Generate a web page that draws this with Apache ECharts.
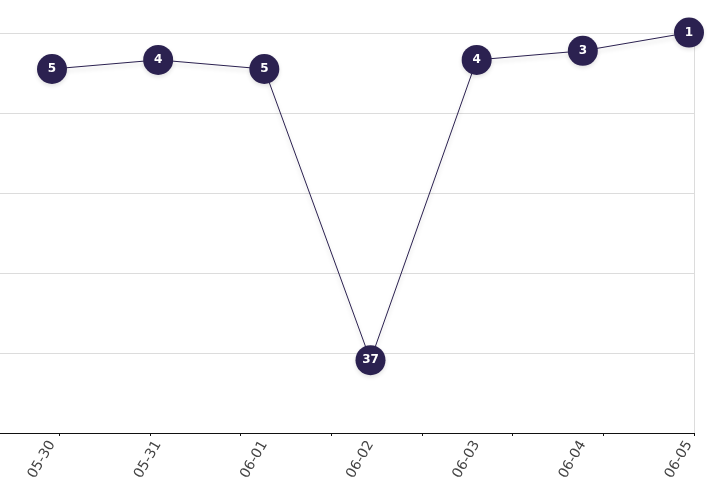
<!DOCTYPE html>
<html>
<head>
<meta charset="utf-8">
<script src="https://cdn.jsdelivr.net/npm/echarts@6/dist/echarts.min.js"></script>
<style>
html,body{margin:0;padding:0;background:#fff;}
#c{width:712px;height:489px;}
</style>
</head>
<body>
<div id="c"></div>
<script>
var categories = ['05-30', '05-31', '06-01', '06-02', '06-03', '06-04', '06-05'];
var values = [5, 4, 5, 37, 4, 3, 1];
var tickValues = [0, 1, 2, 3, 4, 5, 6, 7];

var chart = echarts.init(document.getElementById('c'));
var dark = '#2b2150';
chart.setOption({
  animation: false,
  backgroundColor: '#fff',
  grid: [
    {left: 0, right: 18, top: 33, bottom: 56},
    {left: 52, right: 23, top: 23.5, bottom: 56}
  ],
  xAxis: [
    {
      gridIndex: 0, type: 'value', min: -0.654, max: 7,
      axisLine: {show: true, onZero: false, lineStyle: {color: '#111', width: 1}},
      axisTick: {show: true, length: 3, customValues: tickValues, lineStyle: {color: '#111'}},
      axisLabel: {show: false},
      splitLine: {show: false}
    },
    {
      gridIndex: 1, type: 'category', data: categories, boundaryGap: false,
      axisLine: {show: false}, axisTick: {show: false},
      axisLabel: {show: true, rotate: 60, margin: 9, color: '#444',
        fontFamily: 'DejaVu Sans', fontSize: 14},
      splitLine: {show: false}
    }
  ],
  yAxis: [
    {
      gridIndex: 0, type: 'value', min: 0, max: 5, interval: 1, position: 'right',
      axisLine: {show: true, onZero: false, lineStyle: {color: '#dcdcdc'}},
      axisTick: {show: false}, axisLabel: {show: false},
      splitLine: {show: true, lineStyle: {color: '#dcdcdc', width: 1}}
    },
    {
      gridIndex: 1, type: 'value', inverse: true, min: 0, max: 45,
      axisLine: {show: false}, axisTick: {show: false}, axisLabel: {show: false},
      splitLine: {show: false}
    }
  ],
  series: [{
    type: 'line',
    xAxisIndex: 1, yAxisIndex: 1,
    data: values,
    symbol: 'circle',
    symbolSize: 30,
    lineStyle: {color: dark, width: 1, shadowColor: 'rgba(0,0,0,0.18)', shadowBlur: 4, shadowOffsetY: 3},
    itemStyle: {color: dark, shadowColor: 'rgba(0,0,0,0.12)', shadowBlur: 4, shadowOffsetY: 2},
    label: {show: true, position: 'inside', color: '#fff', fontSize: 12, fontWeight: 'bold',
      fontFamily: 'DejaVu Sans'}
  }]
});
</script>
</body>
</html>
